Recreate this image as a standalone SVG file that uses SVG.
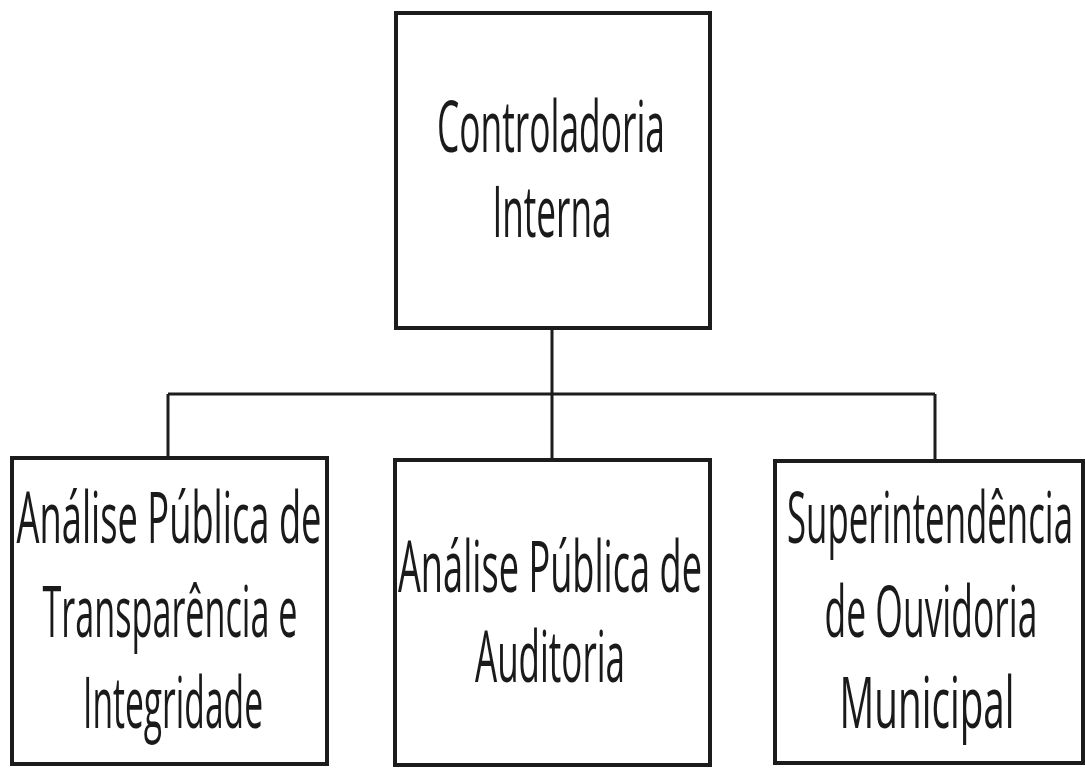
<svg xmlns="http://www.w3.org/2000/svg" width="1085" height="769" viewBox="0 0 1085 769">
<style>
.box{fill:#fff;stroke:#1c1c1c;stroke-width:4}
.con{fill:none;stroke:#1c1c1c;stroke-width:3}
.lbl{font-family:"Open Sans","Liberation Sans",sans-serif;font-size:72px;fill:#1a1a1a;text-anchor:middle}
</style>
<rect width="1085" height="769" fill="#fff"/>
<g id="connectors">
<path class="con" d="M552 329 V394 M168 394 H935 M168 394 V458 M552 394 V460 M935 394 V461"/>
</g>
<g id="controladoria">
<rect class="box" x="396" y="13" width="314" height="315"/>
<text class="lbl" x="551" y="152" textLength="228" lengthAdjust="spacingAndGlyphs">Controladoria</text>
<text class="lbl" x="552" y="237" textLength="119" lengthAdjust="spacingAndGlyphs">Interna</text>
</g>
<g id="transparencia">
<rect class="box" x="12" y="458" width="315" height="306"/>
<text class="lbl" x="169" y="543" textLength="305" lengthAdjust="spacingAndGlyphs">Análise Pública de</text>
<text class="lbl" x="170" y="637" textLength="255" lengthAdjust="spacingAndGlyphs">Transparência e</text>
<text class="lbl" x="173" y="728" textLength="180" lengthAdjust="spacingAndGlyphs">Integridade</text>
</g>
<g id="auditoria">
<rect class="box" x="395" y="460" width="315" height="305"/>
<text class="lbl" x="550" y="592" textLength="304" lengthAdjust="spacingAndGlyphs">Análise Pública de</text>
<text class="lbl" x="550" y="682" textLength="150" lengthAdjust="spacingAndGlyphs">Auditoria</text>
</g>
<g id="ouvidoria">
<rect class="box" x="775" y="461" width="308" height="302"/>
<text class="lbl" x="930" y="543" textLength="286" lengthAdjust="spacingAndGlyphs">Superintendência</text>
<text class="lbl" x="931" y="637" textLength="213" lengthAdjust="spacingAndGlyphs">de Ouvidoria</text>
<text class="lbl" x="927" y="728" textLength="175" lengthAdjust="spacingAndGlyphs">Municipal</text>
</g>
</svg>
